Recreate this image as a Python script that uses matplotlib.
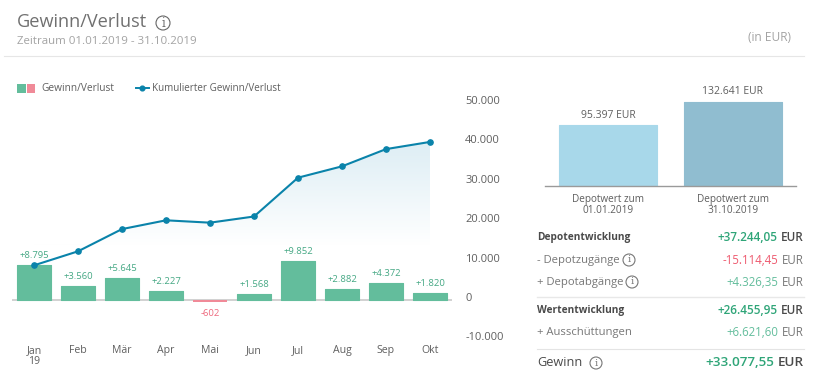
import numpy as np
import matplotlib
matplotlib.use("Agg")
import matplotlib.pyplot as plt
from matplotlib.patches import Circle, Polygon, Rectangle
from matplotlib.lines import Line2D
from matplotlib.transforms import ScaledTranslation
from matplotlib.colors import LinearSegmentedColormap

plt.rcParams['font.family'] = ['Open Sans', 'DejaVu Sans']

months = ['Jan\n19', 'Feb', 'Mär', 'Apr', 'Mai', 'Jun', 'Jul', 'Aug', 'Sep', 'Okt']
gain = [8795, 3560, 5645, 2227, -602, 1568, 9852, 2882, 4372, 1820]
gain_labels = ['+8.795', '+3.560', '+5.645', '+2.227', '-602', '+1.568', '+9.852', '+2.882', '+4.372', '+1.820']
cumulative = [8795, 12355, 18000, 20227, 19625, 21193, 31045, 33927, 38299, 40119]
y_ticks = [50000, 40000, 30000, 20000, 10000, 0, -10000]
y_tick_labels = ['50.000', '40.000', '30.000', '20.000', '10.000', '0', '-10.000']

depot_labels = ['Depotwert zum\n01.01.2019', 'Depotwert zum\n31.10.2019']
depot_values = [95397, 132641]
depot_value_labels = ['95.397 EUR', '132.641 EUR']

rows_label = ['Depotentwicklung', '- Depotzugänge', '+ Depotabgänge', 'Wertentwicklung', '+ Ausschüttungen', 'Gewinn']
rows_value = ['+37.244,05', '-15.114,45', '+4.326,35', '+26.455,95', '+6.621,60', '+33.077,55']

GREEN = '#63BD9C'
RED = '#F08A98'
LINE = '#0A83AA'
TXT = '#5f5f5f'
W, H = 824, 392

fig = plt.figure(figsize=(W / 100, H / 100), dpi=100)
bg = fig.add_axes([0, 0, 1, 1])
bg.set_xlim(0, W); bg.set_ylim(H, 0); bg.axis('off')


def px_axes(x0, y0, x1, y1):
    return fig.add_axes([x0 / W, 1 - y1 / H, (x1 - x0) / W, (y1 - y0) / H])


def info(x, y, r=6.0, size=7.5, color='#777777'):
    bg.add_patch(Circle((x, y), r, fill=False, ec=color, lw=0.8))
    bg.text(x, y, 'i', ha='center', va='center', fontsize=size, color=color, family='DejaVu Serif')


# Header
bg.text(17, 22, 'Gewinn/Verlust', fontsize=13.1, color='#707070', va='center')
info(163, 23, r=7.0, size=8.5, color='#666666')
bg.text(17, 41, 'Zeitraum 01.01.2019 - 31.10.2019', fontsize=8.25, color='#a3a3a3', va='center')
bg.text(791, 37, '(in EUR)', fontsize=8.6, color='#a3a3a3', va='center', ha='right')
bg.add_line(Line2D([4, 804], [55.5, 55.5], color='#e6e6e6', lw=0.8))

# Legend
bg.add_patch(Rectangle((17, 83.5), 9, 9, color=GREEN, lw=0))
bg.add_patch(Rectangle((27, 83.5), 8, 9, color=RED, lw=0))
bg.text(41.5, 88, 'Gewinn/Verlust', fontsize=7.3, color=TXT, va='center')
bg.add_line(Line2D([136, 142.5, 149], [88, 88, 88], color=LINE, lw=1.4, marker='o', ms=3.4, markevery=[1]))
bg.text(152, 88, 'Kumulierter Gewinn/Verlust', fontsize=7.15, color=TXT, va='center')

# Main chart
ax = px_axes(12, 103, 452, 339.4)
ax.patch.set_alpha(0)
x = np.arange(len(months))
ax.set_xlim(-0.5, 9.5)
ax.set_ylim(-10000, 50000)

cmap = LinearSegmentedColormap.from_list('g', ['#ffffff', '#DCEDF4'])
grad = np.linspace(1, 0, 256).reshape(-1, 1)
im = ax.imshow(grad, extent=(x[0], x[-1], 14000, 41000), aspect='auto', cmap=cmap, vmin=0, vmax=1, zorder=1)
poly = Polygon(np.vstack([np.column_stack([x, cumulative]), [x[-1], 14000], [x[0], 14000]]),
               closed=True, transform=ax.transData, fc='none', ec='none')
ax.add_patch(poly)
im.set_clip_path(poly)
ax.set_xlim(-0.5, 9.5)
ax.set_ylim(-10000, 50000)

ax.axhline(0, color='#c9c9c9', lw=1.2, zorder=1.5)
colors = [GREEN if v >= 0 else RED for v in gain]
ax.bar(x, gain, width=0.765, color=colors, edgecolor=colors,
       linewidth=[0.8 if v >= 0 else 0 for v in gain], joinstyle='round', zorder=2)
ax.plot(x, cumulative, color=LINE, lw=1.5, marker='o', ms=3.8, zorder=4)
for xi, v, lab in zip(x, gain, gain_labels):
    if v >= 0:
        ax.annotate(lab, (xi, v), xytext=(0, 3.5), textcoords='offset points', ha='center', va='bottom',
                    fontsize=6.8, color='#45A884', zorder=5)
    else:
        ax.annotate(lab, (xi, v), xytext=(0, -5), textcoords='offset points', ha='center', va='top',
                    fontsize=6.8, color='#EE6A7E', zorder=5)

for s in ax.spines.values():
    s.set_visible(False)
ax.set_xticks(x)
ax.set_xticklabels(months, fontsize=7.6, color=TXT, linespacing=1.0)
ax.tick_params(axis='x', length=0, pad=4)
ax.yaxis.tick_right()
ax.set_yticks(y_ticks)
ax.set_yticklabels(y_tick_labels, fontsize=8, color=TXT)
ax.tick_params(axis='y', length=0, pad=9.5)
shift = ScaledTranslation(0, 3 / 100, fig.dpi_scale_trans)
for t in ax.get_yticklabels():
    t.set_transform(t.get_transform() + shift)

# Depot value bars
ax2 = px_axes(545, 80, 796, 186)
ax2.patch.set_alpha(0)
dx = np.arange(len(depot_values))
ax2.set_xlim(-0.504, 1.504)
ax2.set_ylim(0, 106 / 0.6355 * 1000)
dc = ['#A8D8EA', '#90BDD0']
ax2.bar(dx, depot_values, width=0.79, color=dc, edgecolor=dc, linewidth=0.8, joinstyle='round')
for xi, v, lab in zip(dx, depot_values, depot_value_labels):
    ax2.annotate(lab, (xi, v), xytext=(0, 3.2), textcoords='offset points', ha='center', va='bottom',
                 fontsize=7.5, color=TXT)
for s in ('top', 'left', 'right'):
    ax2.spines[s].set_visible(False)
ax2.spines['bottom'].set_color('#9a9a9a')
ax2.spines['bottom'].set_linewidth(1.0)
ax2.set_yticks([])
ax2.set_xticks(dx)
ax2.set_xticklabels(depot_labels, fontsize=7.2, color=TXT, linespacing=1.0)
ax2.tick_params(axis='x', length=0, pad=6)

# Summary table
row_y = [237, 260, 282, 311, 333, 362]
label_fs = [7.3, 8.1, 8.1, 7.3, 8.1, 9.2]
value_fs = [8.5, 8.3, 8.3, 8.5, 8.3, 9.7]
row_bold = [True, False, False, True, False, False]
for i, (lab, val, y) in enumerate(zip(rows_label, rows_value, row_y)):
    bold = row_bold[i]
    big = i == 5
    neg = val.startswith('-')
    if bold or big:
        vc = '#2FA578'
    elif neg:
        vc = '#EE5A6F'
    else:
        vc = '#63BD9C'
    fw = 'bold' if bold else ('medium' if big else 'normal')
    fw_v = 'semibold' if (bold or big) else 'normal'
    dark = '#4a4a4a' if (bold or big) else '#777777'
    bg.text(537, y, lab, fontsize=label_fs[i], color=dark, va='center', fontweight=fw)
    eur = bg.text(803.5, y, 'EUR', fontsize=value_fs[i], color=dark, va='center', ha='right', fontweight=fw_v)
    fig.canvas.draw()
    ex = eur.get_window_extent().x0
    bg.text(ex - 3.2, y, val, fontsize=value_fs[i], color=vc, va='center', ha='right', fontweight=fw_v)

info(629, 260)
info(632, 282)
info(596, 363)
bg.add_line(Line2D([537, 804], [297, 297], color='#e8e8e8', lw=1.0))
bg.add_line(Line2D([537, 804], [348.5, 348.5], color='#e4e4e4', lw=0.8))

fig.savefig('out.png', dpi=100)
